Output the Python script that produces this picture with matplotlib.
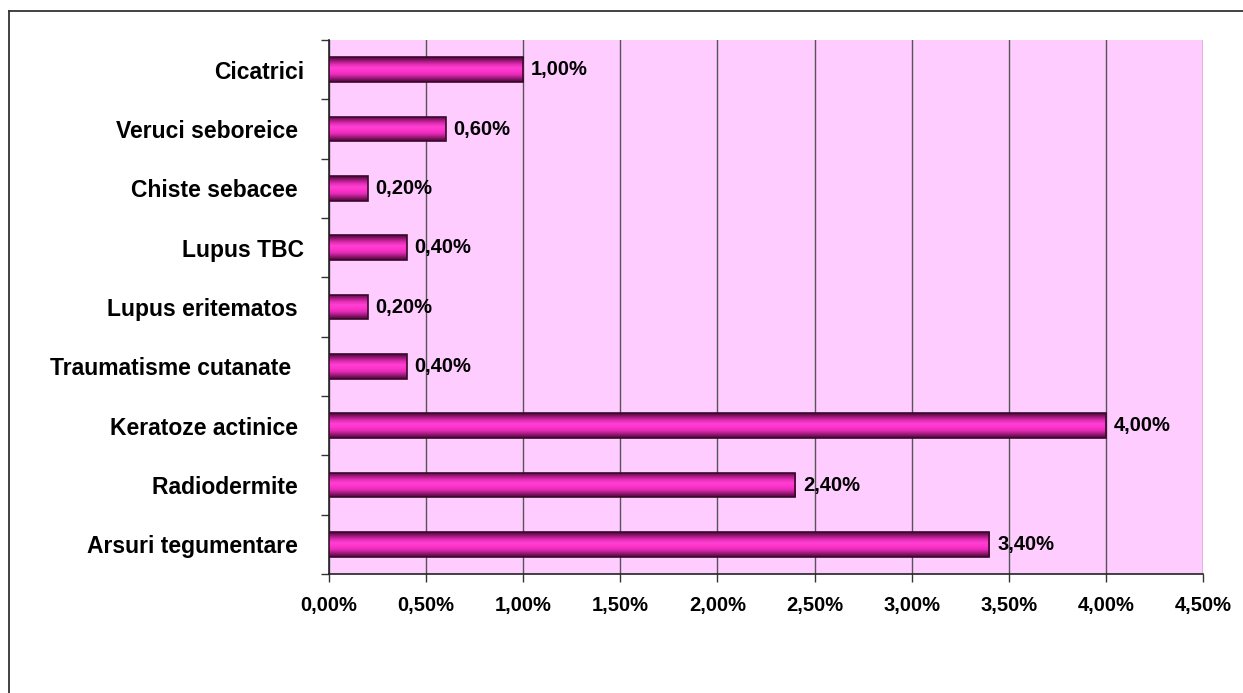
import numpy as np
import matplotlib
matplotlib.use("Agg")
import matplotlib.pyplot as plt
from matplotlib.colors import LinearSegmentedColormap
from matplotlib.lines import Line2D

categories = ["Arsuri tegumentare ", "Radiodermite ", "Keratoze actinice ",
              "Traumatisme cutanate  ", "Lupus eritematos ", "Lupus TBC",
              "Chiste sebacee ", "Veruci seboreice ", "Cicatrici"]
values = [3.40, 2.40, 4.00, 0.40, 0.20, 0.40, 0.20, 0.60, 1.00]
xticks = [0.0, 0.5, 1.0, 1.5, 2.0, 2.5, 3.0, 3.5, 4.0, 4.5]

plt.rcParams['font.family'] = ['Liberation Sans', 'DejaVu Sans']
plt.rcParams['font.weight'] = 'bold'

fig = plt.figure(figsize=(12.43, 6.93), dpi=100)
ax = fig.add_axes([329 / 1243, 1 - 574 / 693, (1203 - 329) / 1243, (574 - 40) / 693])
ax.set_facecolor('#FFCCFF')

ax.set_xlim(0, 4.5)
ax.set_ylim(-0.5, len(categories) - 0.5)

cmap = LinearSegmentedColormap.from_list(
    "cyl", ["#4a0838", "#9a1878", "#e02cb4", "#ff33cc", "#ff40d2", "#e02cb4", "#9a1878", "#4a0838"])
grad = np.linspace(0, 1, 64).reshape(-1, 1)

bh = 0.42
ypos = np.arange(len(categories))
bars = ax.barh(ypos, values, height=bh, color='none', edgecolor='#3a0a2a', linewidth=1.2, zorder=4)
for rect in bars:
    x0, y0 = rect.get_x(), rect.get_y()
    w, h = rect.get_width(), rect.get_height()
    im = ax.imshow(grad, cmap=cmap, aspect='auto', extent=(x0, x0 + w, y0, y0 + h),
                   origin='lower', zorder=3, interpolation='bilinear')
    im.set_clip_path(rect)

for y, v in zip(ypos, values):
    ax.text(v + 0.04, y, f"{v:.2f}%".replace('.', ','), va='center', ha='left',
            fontsize=14.5, fontweight='bold', zorder=5)

ax.set_xticks(xticks)
ax.set_xticklabels([f"{t:.2f}%".replace('.', ',') for t in xticks], fontsize=14.5, fontweight='bold')
ax.set_yticks(ypos)
ax.set_yticklabels(categories, fontsize=16.5, fontweight='bold')
ax.tick_params(axis='y', length=0, pad=18)
ax.set_yticks(np.arange(-0.5, len(categories), 1.0), minor=True)
ax.tick_params(axis='y', which='minor', length=6, width=1, color='#333333', direction='out')
ax.tick_params(axis='x', length=6, width=1, color='#333333', pad=10)
ax.xaxis.grid(True, color='#555555', linewidth=1)
ax.set_axisbelow(True)
for s in ['top', 'right']:
    ax.spines[s].set_visible(False)
ax.spines['left'].set_color('#222222')
ax.spines['bottom'].set_color('#222222')
ax.spines['bottom'].set_linewidth(1.2)
ax.spines['left'].set_linewidth(1.2)

# outer frame (top and left)
fig.add_artist(Line2D([8.5 / 1243, 1], [1 - 11 / 693, 1 - 11 / 693], color='#333333', linewidth=1.3,
                      transform=fig.transFigure))
fig.add_artist(Line2D([8.5 / 1243, 8.5 / 1243], [0, 1 - 11 / 693], color='#333333', linewidth=1.3,
                      transform=fig.transFigure))

fig.savefig("out.png", dpi=100, facecolor='white')
